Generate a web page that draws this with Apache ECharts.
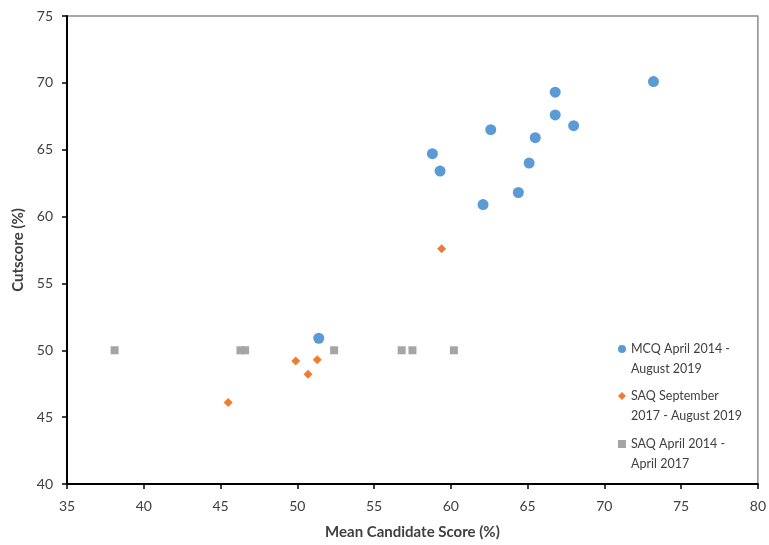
<!DOCTYPE html>
<html><head><meta charset="utf-8">
<script src="https://cdn.jsdelivr.net/npm/echarts@6/dist/echarts.min.js"></script>
<style>html,body{margin:0;padding:0;background:#fff}#c{width:769px;height:545px}</style>
</head><body><div id="c"></div>
<script>
const seriesNames = ['MCQ April 2014 -\nAugust 2019', 'SAQ September\n2017 - August 2019', 'SAQ April 2014 -\nApril 2017'];
const mcqX = [73.2, 66.8, 66.8, 68.0, 62.6, 65.5, 58.8, 59.3, 65.1, 64.4, 62.1, 51.4];
const mcqY = [70.1, 69.3, 67.6, 66.8, 66.5, 65.9, 64.7, 63.4, 64.0, 61.8, 60.9, 50.9];
const saqNewX = [59.4, 45.5, 49.9, 50.7, 51.3];
const saqNewY = [57.6, 46.1, 49.2, 48.2, 49.3];
const saqOldX = [38.1, 46.3, 46.6, 52.4, 56.8, 57.5, 60.2];
const saqOldY = [50, 50, 50, 50, 50, 50, 50];
const xTicks = [35, 40, 45, 50, 55, 60, 65, 70, 75, 80];
const yTicks = [40, 45, 50, 55, 60, 65, 70, 75];

const zip = (xs, ys) => xs.map((x, i) => [x, ys[i]]);
const font = 'Lato, "Open Sans", sans-serif';
const colors = ['#5B9BD5', '#ED7D31', '#A5A5A5'];
const symbols = ['circle', 'diamond', 'rect'];
const sizes = [11, 9, 8];
const datas = [zip(mcqX, mcqY), zip(saqNewX, saqNewY), zip(saqOldX, saqOldY)];

const legendTops = [319, 366, 414];
const legends = seriesNames.map((n, i) => ({
  data: [n], left: 618, top: legendTops[i], orient: 'vertical', padding: 0,
  itemWidth: 8, itemHeight: 8, itemGap: 0, icon: symbols[i],
  selectedMode: false,
  formatter: s => ' \n' + s,
  textStyle: { fontFamily: font, fontSize: 12.5, color: '#404040', lineHeight: 20 }
}));

const chart = echarts.init(document.getElementById('c'));
chart.setOption({
  animation: false,
  color: colors,
  grid: { left: 67, right: 9, top: 16, bottom: 60, show: true, borderColor: '#8c8c8c', borderWidth: 1.5 },
  legend: legends,
  xAxis: {
    type: 'value', min: xTicks[0], max: xTicks[xTicks.length - 1], interval: 5,
    name: 'Mean Candidate Score (%)', nameLocation: 'middle', nameGap: 41,
    nameTextStyle: { fontFamily: font, fontSize: 15, fontWeight: 'bold', color: '#404040' },
    axisLine: { lineStyle: { color: '#000', width: 2 } },
    axisTick: { show: true, length: 5, lineStyle: { color: '#000', width: 1.5 } },
    axisLabel: { fontFamily: font, fontSize: 14, color: '#404040', margin: 15 },
    splitLine: { show: false }
  },
  yAxis: {
    type: 'value', min: yTicks[0], max: yTicks[yTicks.length - 1], interval: 5,
    name: 'Cutscore (%)', nameLocation: 'middle', nameGap: 40, nameRotate: 90,
    nameTextStyle: { fontFamily: font, fontSize: 15, fontWeight: 'bold', color: '#404040' },
    axisLine: { show: true, lineStyle: { color: '#000', width: 2 } },
    axisTick: { show: true, length: 5, lineStyle: { color: '#000', width: 1.5 } },
    axisLabel: { fontFamily: font, fontSize: 14, color: '#404040', margin: 14 },
    splitLine: { show: false }
  },
  series: seriesNames.map((n, i) => ({
    name: n, type: 'scatter', data: datas[i], symbol: symbols[i], symbolSize: sizes[i],
    itemStyle: { color: colors[i], opacity: 1 }
  }))
});
</script></body></html>
